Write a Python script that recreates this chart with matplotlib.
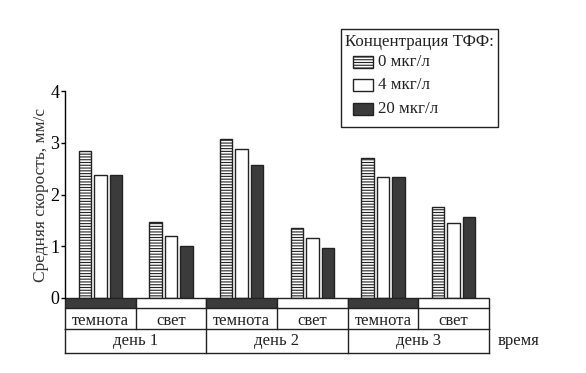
import matplotlib

matplotlib.use("Agg")

import matplotlib.pyplot as plt
from matplotlib.patches import Rectangle

plt.rcParams["font.family"] = ["Liberation Serif", "DejaVu Serif"]
plt.rcParams["hatch.linewidth"] = 0.8

DAYS = ["день 1", "день 2", "день 3"]
PHASES = ["темнота", "свет", "темнота", "свет", "темнота", "свет"]
CONCS = ["0 мкг/л", "4 мкг/л", "20 мкг/л"]

# mean speed, mm/s; one list per concentration, order follows PHASES
speed_0 = [2.84, 1.47, 3.07, 1.36, 2.71, 1.76]
speed_4 = [2.38, 1.20, 2.87, 1.15, 2.33, 1.44]
speed_20 = [2.38, 1.01, 2.57, 0.96, 2.33, 1.56]

DARK = "#3b3b3b"
INK = "#222222"
STYLES = [
    dict(facecolor="white", edgecolor=INK, hatch="------"),
    dict(facecolor="white", edgecolor=INK),
    dict(facecolor=DARK, edgecolor=INK),
]

W, H, DPI = 586, 373, 100
fig = plt.figure(figsize=(W / DPI, H / DPI), dpi=DPI)
x0, x1, y0, y4 = 65, 489, 298, 91
ax = fig.add_axes([x0 / W, 1 - y0 / H, (x1 - x0) / W, (y0 - y4) / H])

n = len(PHASES)
width = 0.175
offset = 0.22
for k, (vals, st) in enumerate(zip([speed_0, speed_4, speed_20], STYLES)):
    xs = [i + 0.5 + (k - 1) * offset for i in range(n)]
    ax.bar(xs, vals, width=width, linewidth=1.0, **st)

ax.set_xlim(0, n)
ax.set_ylim(0, 4)
ax.set_yticks([0, 1, 2, 3, 4])
ax.tick_params(axis="y", direction="out", length=3, width=1, labelsize=13, pad=1)
ax.set_xticks([])
for s in ["top", "right", "bottom"]:
    ax.spines[s].set_visible(False)
ax.spines["left"].set_linewidth(1.0)
ax.set_ylabel("Средняя скорость, мм/с", fontsize=12.5, color="#333333", labelpad=1)

# table under the axis
r1, r2, r3 = -0.2, -0.6, -1.07
for i, ph in enumerate(PHASES):
    fc = DARK if ph == "темнота" else "white"
    ax.add_patch(Rectangle((i, r1), 1, -r1, facecolor=fc, edgecolor=INK,
                           linewidth=1.0, clip_on=False))
    ax.text(i + 0.5, (r1 + r2) / 2 - 0.04, ph, ha="center", va="center",
            fontsize=12, color=INK, clip_on=False)
for y in [r2, r3]:
    ax.plot([0, n], [y, y], color=INK, lw=1.0, clip_on=False)
for i in range(n + 1):
    ax.plot([i, i], [r1, r2], color=INK, lw=1.0, clip_on=False)
for i in range(0, n + 1, 2):
    ax.plot([i, i], [r2, r3], color=INK, lw=1.0, clip_on=False)
for d, day in enumerate(DAYS):
    ax.text(2 * d + 1, (r2 + r3) / 2, day, ha="center", va="center",
            fontsize=12, color=INK, clip_on=False)
ax.text(n + 0.12, (r2 + r3) / 2, "время", ha="left", va="center",
        fontsize=12, color=INK, clip_on=False)


# legend drawn by hand, in pixel positions of the figure
def fx(px):
    return px / W


def fy(py):
    return 1 - py / H


fig.patches.append(Rectangle((fx(341), fy(127)), fx(498) - fx(341), fy(29) - fy(127),
                             transform=fig.transFigure, facecolor="white",
                             edgecolor=INK, linewidth=1.0))
fig.text(fx(345), fy(42), "Концентрация ТФФ:", ha="left", va="center",
         fontsize=12.2, color=INK)
for st, label, cy in zip(STYLES, CONCS, [62, 85, 109]):
    fig.patches.append(Rectangle((fx(353), fy(cy + 6)), fx(373) - fx(353), fy(cy - 6) - fy(cy + 6),
                                 transform=fig.transFigure, linewidth=1.0, **st))
    fig.text(fx(378), fy(cy), label, ha="left", va="center", fontsize=12.2, color=INK)

fig.savefig("out.png", dpi=DPI, facecolor="white")
